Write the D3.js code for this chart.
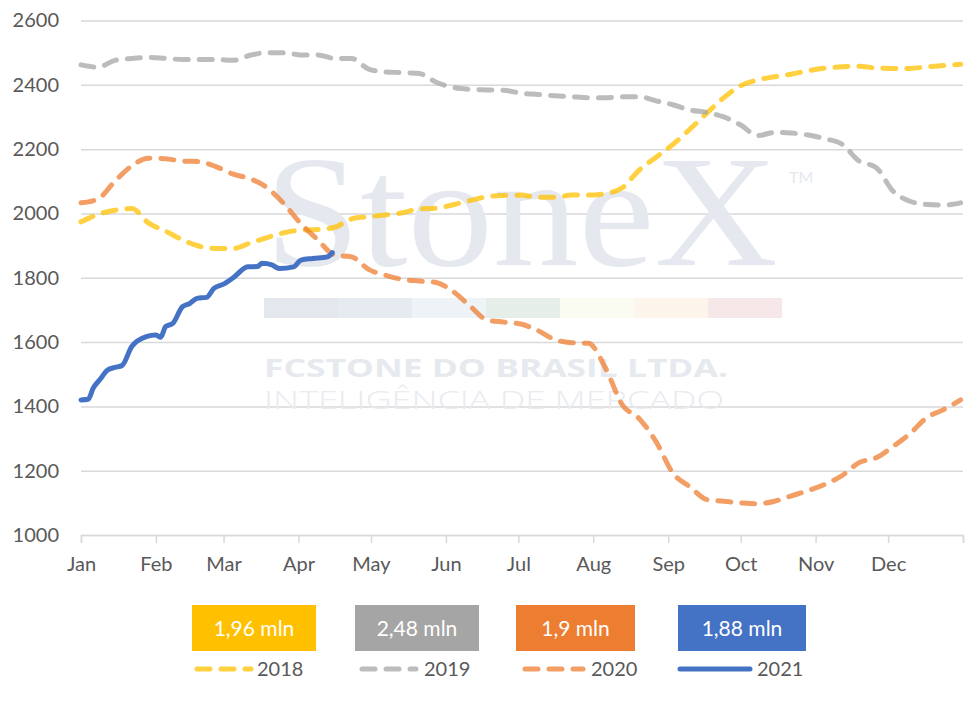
<!DOCTYPE html>
<html lang="en">
<head>
<meta charset="UTF-8">
<title>Stock chart 2018-2021</title>
<script src="https://cdn.jsdelivr.net/npm/d3@7"></script>
<style>
  body { margin: 0; background: #fff; }
  text { font-family: Lato, "Open Sans", sans-serif; }
</style>
</head>
<body>
<script>
// day-of-year samples (weekly) used by the 2018-2020 series
var weekDays = [0,7,14,21,28,35,42,49,56,63,70,77,84,91,98,105,112,119,126,133,140,147,154,161,168,175,182,189,196,203,210,217,224,231,238,245,252,259,266,273,280,287,294,301,308,315,322,329,336,343,350,357,364];

var values2018 = [1974,1997,2010,2015,1970,1945,1918,1898,1891,1891,1908,1925,1940,1948,1950,1957,1983,1990,1995,2002,2014,2016,2027,2040,2052,2056,2057,2050,2050,2057,2057,2062,2080,2135,2175,2215,2262,2312,2360,2397,2415,2425,2433,2444,2452,2456,2458,2452,2451,2451,2456,2460,2464];

var values2019 = [2462,2455,2476,2482,2485,2482,2479,2479,2479,2476,2492,2500,2500,2493,2493,2482,2482,2449,2440,2438,2435,2408,2392,2386,2384,2383,2374,2370,2366,2363,2360,2360,2363,2363,2350,2338,2322,2314,2300,2275,2242,2252,2250,2244,2232,2215,2163,2143,2070,2038,2028,2026,2033];

var values2020 = [2033,2045,2100,2148,2172,2170,2163,2161,2145,2122,2108,2080,2030,1968,1918,1870,1865,1826,1808,1795,1790,1785,1757,1712,1669,1662,1656,1636,1608,1598,1596,1520,1405,1362,1290,1192,1150,1110,1105,1100,1097,1105,1122,1138,1158,1185,1225,1240,1275,1315,1365,1390,1420];

// 2021 runs only to mid-April
var days2021 = [0,3,5,8,11,14,17,21,27,31,33,35,38,42,45,48,52,55,59,63,69,73,75,79,82,88,91,96,102,104];
var values2021 = [1420,1422,1456,1485,1513,1521,1527,1586,1617,1622,1615,1648,1658,1710,1720,1736,1739,1767,1780,1800,1834,1835,1845,1840,1829,1834,1855,1860,1865,1878];

var years = ["2018","2019","2020","2021"];
var boxLabels = ["1,96 mln","2,48 mln","1,9 mln","1,88 mln"];
var boxColors = ["#FFC000","#A5A5A5","#ED7D31","#4472C4"];
var yTicks = [1000,1200,1400,1600,1800,2000,2200,2400,2600];

var W = 975, H = 709;
var margin = {left: 81, right: 12, top: 20.5, bottom: 174};

var svg = d3.select("body").append("svg")
  .attr("width", W)
  .attr("height", H);

var t0 = new Date(Date.UTC(2021,0,1)), t1 = new Date(Date.UTC(2022,0,1));
function dayToDate(d){ return new Date(Date.UTC(2021,0,1+d)); }

var x = d3.scaleUtc().domain([t0,t1]).range([margin.left, W - margin.right]);
var y = d3.scaleLinear().domain([1000,2600]).range([H - margin.bottom, margin.top]);

// gridlines + y labels
var yAxis = svg.append("g")
  .attr("transform", "translate(" + margin.left + ",0)")
  .call(d3.axisLeft(y).tickValues(yTicks).tickFormat(d3.format("d"))
    .tickSize(-(W - margin.left - margin.right)).tickPadding(22));
yAxis.select(".domain").remove();
yAxis.selectAll(".tick line").attr("stroke","#d9d9d9").attr("stroke-width",1.5);
yAxis.selectAll(".tick text").attr("fill","#595959").style("font-size","20px");

// x axis ticks and month labels
var monthTicks = d3.utcMonth.range(t0, d3.utcDay.offset(t1,1));
var xAxis = svg.append("g")
  .attr("transform", "translate(0," + y(1000) + ")")
  .call(d3.axisBottom(x).tickValues(monthTicks).tickSize(8).tickPadding(14)
    .tickFormat(function(d){ return d < t1 ? d3.utcFormat("%b")(d) : ""; }));
xAxis.select(".domain").attr("stroke","#d9d9d9").attr("stroke-width",1.5);
xAxis.selectAll(".tick line").attr("stroke","#d9d9d9").attr("stroke-width",1.5);
xAxis.selectAll(".tick text").attr("fill","#595959").style("font-size","20px");

// watermark
var wm = svg.append("g").attr("pointer-events","none");
wm.append("text")
  .attr("x", 265).attr("y", 265)
  .attr("textLength", 513).attr("lengthAdjust","spacingAndGlyphs")
  .style("font-family","'Liberation Serif', 'DejaVu Serif', serif")
  .style("font-size","158px")
  .attr("fill","#e5e9ef")
  .text("StoneX");
wm.append("text")
  .attr("x", 789).attr("y", 183)
  .style("font-size","16px")
  .attr("fill","#e5e9ef")
  .text("TM");
var stripe = ["#e4e8ee","#e6ebf2","#eef3f7","#e6eeea","#fbfcf1","#fdf5eb","#f6e8e8"];
wm.selectAll("rect.stripe").data(stripe).enter().append("rect")
  .attr("class","stripe")
  .attr("x", function(d,i){ return 264 + i*74; })
  .attr("y", 298).attr("width", 74).attr("height", 20)
  .attr("fill", function(d){ return d; });
wm.append("text")
  .attr("x", 264).attr("y", 377)
  .attr("textLength", 464).attr("lengthAdjust","spacingAndGlyphs")
  .style("font-family","'Open Sans', sans-serif").style("font-weight","bold")
  .style("font-size","25px").attr("fill","#e6e9ee")
  .text("FCSTONE DO BRASIL LTDA.");
wm.append("text")
  .attr("x", 264).attr("y", 409)
  .attr("textLength", 460).attr("lengthAdjust","spacingAndGlyphs")
  .style("font-family","'Open Sans', sans-serif").style("font-weight","300")
  .style("font-size","25px").attr("fill","#e8ebef")
  .text("INTELIGÊNCIA DE MERCADO");

// series
var series = [
  {name:"2018", days: weekDays, vals: values2018, color:"#FFC000", dash:"13,11", op:0.75},
  {name:"2019", days: weekDays, vals: values2019, color:"#A5A5A5", dash:"13,11", op:0.75},
  {name:"2020", days: weekDays, vals: values2020, color:"#ED7D31", dash:"13,11", op:0.75},
  {name:"2021", days: days2021, vals: values2021, color:"#4472C4", dash:null, op:1}
];

var line = d3.line()
  .x(function(d){ return x(dayToDate(d[0])); })
  .y(function(d){ return y(d[1]); })
  .curve(d3.curveMonotoneX);

svg.append("g").selectAll("path").data(series).enter().append("path")
  .attr("d", function(s){ return line(d3.zip(s.days, s.vals)); })
  .attr("fill","none")
  .attr("stroke", function(s){ return s.color; })
  .attr("stroke-opacity", function(s){ return s.op; })
  .attr("stroke-width", 5)
  .attr("stroke-linecap","round")
  .attr("stroke-linejoin","round")
  .attr("stroke-dasharray", function(s){ return s.dash; });

// legend boxes with totals
var boxX = [192,355,516,678], boxW = [124,124,119,128];
var sampleX = [195,360,523,678], sampleW = [56,56,60,72], textX = [257,424,591,757];

var lg = svg.append("g");
lg.selectAll("rect").data(boxLabels).enter().append("rect")
  .attr("x", function(d,i){ return boxX[i]; })
  .attr("y", 605).attr("width", function(d,i){ return boxW[i]; }).attr("height", 46)
  .attr("fill", function(d,i){ return boxColors[i]; });
lg.selectAll("text.box").data(boxLabels).enter().append("text")
  .attr("class","box")
  .attr("x", function(d,i){ return boxX[i] + boxW[i]/2; })
  .attr("y", 629).attr("dy","0.35em")
  .attr("text-anchor","middle")
  .attr("fill","#fff").style("font-size","21px")
  .text(function(d){ return d; });

lg.selectAll("line").data(series).enter().append("line")
  .attr("x1", function(d,i){ return sampleX[i] + 2; })
  .attr("x2", function(d,i){ return sampleX[i] + sampleW[i]; })
  .attr("y1", 669).attr("y2", 669)
  .attr("stroke", function(s){ return s.color; })
  .attr("stroke-opacity", function(s){ return s.op; })
  .attr("stroke-width", 5)
  .attr("stroke-linecap","round")
  .attr("stroke-dasharray", function(s){ return s.dash; });
lg.selectAll("text.yr").data(years).enter().append("text")
  .attr("class","yr")
  .attr("x", function(d,i){ return textX[i]; })
  .attr("y", 669).attr("dy","0.35em")
  .attr("fill","#595959").style("font-size","20px")
  .text(function(d){ return d; });
</script>
</body>
</html>
